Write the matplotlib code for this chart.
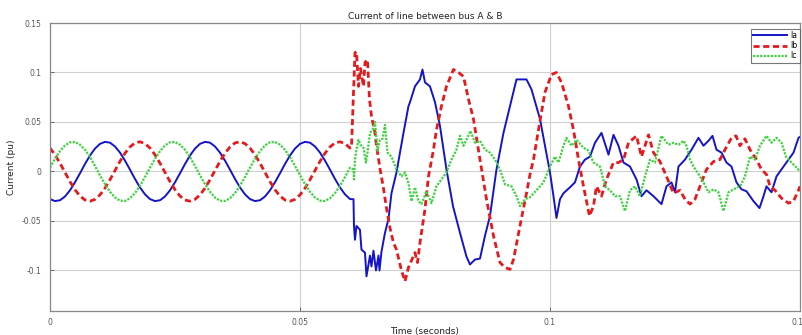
import numpy as np
import matplotlib.pyplot as plt
from matplotlib.ticker import FuncFormatter

# pre-fault samples, every 1 ms from 0 to 60 ms (values in milli-pu)
pre_t_ms = list(range(0, 61))

ia_pre = [-27.9, -29.9, -29.1, -25.3, -19.1, -11.0, -1.9, 7.5, 16.1, 23.1,
          27.9, 29.9, 29.1, 25.3, 19.1, 11.0, 1.9, -7.5, -16.1, -23.1,
          -27.9, -29.9, -29.1, -25.3, -19.1, -11.0, -1.9, 7.5, 16.1, 23.1,
          27.9, 29.9, 29.1, 25.3, 19.1, 11.0, 1.9, -7.5, -16.1, -23.1,
          -27.9, -29.9, -29.1, -25.3, -19.1, -11.0, -1.9, 7.5, 16.1, 23.1,
          27.9, 29.9, 29.1, 25.3, 19.1, 11.0, 1.9, -7.5, -16.1, -23.1,
          -27.9]
ib_pre = [23.7, 16.9, 8.4, -0.9, -10.2, -18.4, -24.8, -28.8, -30.0, -28.2,
          -23.7, -16.9, -8.4, 0.9, 10.2, 18.4, 24.8, 28.8, 30.0, 28.2,
          23.7, 16.9, 8.4, -0.9, -10.2, -18.4, -24.8, -28.8, -30.0, -28.2,
          -23.7, -16.9, -8.4, 0.9, 10.2, 18.4, 24.8, 28.8, 30.0, 28.2,
          23.7, 16.9, 8.4, -0.9, -10.2, -18.4, -24.8, -28.8, -30.0, -28.2,
          -23.7, -16.9, -8.4, 0.9, 10.2, 18.4, 24.8, 28.8, 30.0, 28.2,
          23.7]
ic_pre = [3.8, 12.8, 20.5, 26.3, 29.5, 29.8, 27.1, 21.9, 14.5, 5.6,
          -3.8, -12.8, -20.5, -26.3, -29.5, -29.8, -27.1, -21.9, -14.5, -5.6,
          3.8, 12.8, 20.5, 26.3, 29.5, 29.8, 27.1, 21.9, 14.5, 5.6,
          -3.8, -12.8, -20.5, -26.3, -29.5, -29.8, -27.1, -21.9, -14.5, -5.6,
          3.8, 12.8, 20.5, 26.3, 29.5, 29.8, 27.1, 21.9, 14.5, 5.6,
          -3.8, -12.8, -20.5, -26.3, -29.5, -29.8, -27.1, -21.9, -14.5, -5.6,
          3.8]

# post-fault points (ms, milli-pu)
ia_post_t = [60.7, 60.8, 61.0, 61.3, 62.0, 62.3, 63.0, 63.3, 64.0, 64.3, 64.7, 65.2,
             65.7, 65.9, 66.3, 67.0, 67.7, 68.3, 69.3, 70.7, 71.7, 72.0, 73.0, 74.0,
             74.5, 75.0, 76.0, 77.0, 78.0, 79.3, 80.6, 82.0, 83.3, 84.0, 85.0, 86.0,
             87.0, 88.0, 89.3, 90.7, 92.0, 93.3, 95.3, 96.3, 98.0, 99.0, 100.0, 100.7,
             101.3, 102.0, 102.7, 104.0, 105.0, 106.0, 107.0, 108.0, 109.0, 110.3, 111.7,
             112.7, 113.7, 114.7, 116.0, 117.3, 118.3, 119.3, 120.7, 122.3, 123.3, 124.3,
             125.0, 125.7, 127.0, 128.3, 129.7, 130.7, 131.7, 132.5, 133.3, 134.3, 135.3,
             136.3, 137.3, 138.3, 139.3, 140.7, 141.9, 142.7, 143.3, 144.3, 145.3, 146.7,
             147.7, 148.7, 149.7, 150.0]
ia_post = [-28, -55, -69, -55, -59, -79, -82, -106, -85, -96, -80, -100,
           -85, -100, -81, -62, -48, -22, -1, 39, 66, 70, 86, 93,
           103, 90, 86, 70, 46, 2, -35, -62, -86, -94, -89, -88,
           -65, -45, 2, 39, 66, 93, 93, 83, 53, 26, -1, -25,
           -47, -28, -22, -16, -11, 5, 12, 15, 29, 39, 17,
           37, 26, 9, 5, -8, -25, -19, -25, -33, -15, -11,
           -21, 5, 12, 22, 34, 26, 31, 36, 22, 19, 9,
           5, -11, -18, -20, -30, -37, -25, -15, -21, -5, 5,
           12, 19, 34, 35]

ib_post_t = [60.3, 61.0, 61.3, 61.7, 62.1, 62.7, 63.0, 63.5, 63.9, 64.3, 65.0, 65.3,
             66.0, 66.7, 67.3, 68.0, 68.7, 69.3, 70.3, 71.0, 71.7, 72.3, 73.0, 73.5,
             74.0, 75.0, 75.7, 76.7, 77.3, 78.3, 79.3, 80.7, 81.7, 82.7, 83.7, 84.7,
             86.0, 87.3, 88.7, 90.0, 91.0, 92.0, 92.7, 94.0, 95.3, 96.0, 96.7, 98.0,
             99.0, 100.3, 101.3, 102.3, 103.7, 104.7, 105.7, 106.7, 107.9, 108.7, 109.3,
             110.3, 111.3, 112.7, 113.7, 114.7, 115.7, 117.3, 118.3, 119.7, 120.7, 122.0,
             123.3, 124.7, 126.0, 127.0, 128.0, 129.0, 130.0, 131.3, 132.7, 134.0, 135.0,
             136.3, 137.2, 138.0, 139.0, 140.0, 141.3, 142.3, 143.3, 144.0, 145.0, 146.3,
             147.7, 148.7, 149.7, 150.0]
ib_post = [24, 120, 121, 86, 104, 86, 110, 113, 73, 56, 39, 26,
           3, -17, -37, -57, -72, -79, -100, -111, -97, -90, -82, -92,
           -72, -38, -5, 22, 42, 66, 86, 103, 100, 96, 73, 53,
           12, -28, -65, -92, -97, -99, -89, -55, -22, -3, 12, 51,
           80, 98, 100, 90, 66, 42, 12, -15, -45, -35, -15,
           -25, -8, 9, 9, 12, 29, 36, 15, 37, 19, 10,
           -5, -22, -19, -28, -33, -28, -15, 2, 10, 12, 22,
           34, 36, 26, 33, 22, 12, 2, -3, -15, -19, -27,
           -32, -30, -19, -15]

ic_post_t = [60.7, 60.8, 61.0, 61.3, 61.7, 62.1, 62.7, 63.2, 63.5, 64.0, 64.5, 65.0,
             65.5, 66.0, 66.5, 67.0, 67.5, 68.3, 69.3, 70.3, 71.0, 71.7, 72.3, 73.0,
             73.7, 74.3, 75.3, 76.3, 77.3, 78.3, 79.3, 80.3, 81.3, 82.0, 82.7, 83.3,
             84.1, 85.0, 86.0, 87.0, 88.0, 89.0, 90.0, 91.0, 92.3, 93.3, 94.0, 95.0,
             96.0, 97.3, 98.7, 100.0, 101.0, 101.7, 102.7, 103.3, 104.3, 105.3, 106.7,
             107.7, 108.7, 110.0, 111.0, 112.0, 113.0, 114.0, 115.0, 116.0, 117.0, 118.0,
             119.0, 120.0, 121.0, 122.3, 123.7, 124.7, 125.7, 126.7, 127.3, 128.0, 128.7,
             130.0, 130.7, 131.7, 132.7, 133.7, 134.7, 135.7, 136.7, 138.0, 139.0, 140.0,
             141.0, 142.0, 143.3, 144.3, 145.3, 146.3, 147.2, 148.3, 149.3, 150.0]
ic_post = [2, -8, 12, 22, 32, 27, 24, 9, 19, 39, 42, 50,
           21, 32, 33, 47, 19, 15, 2, -5, -1, -12, -30, -16,
           -30, -33, -20, -32, -15, -8, -1, 12, 22, 36, 26, 32,
           41, 29, 31, 22, 19, 12, 2, -13, -15, -25, -35, -28,
           -26, -19, -11, 5, 15, 9, 26, 34, 26, 32, 24,
           21, 9, 5, -15, -19, -25, -25, -40, -19, -15, -25,
           -5, 12, 9, 36, 27, 29, 27, 31, 26, 12, 5,
           -5, -11, -21, -18, -21, -40, -21, -18, -15, -5, 15,
           12, 26, 36, 29, 34, 29, 15, 9, 4, 0]

tick_x = [0, 0.05, 0.1, 0.15]
tick_y = [-0.1, -0.05, 0, 0.05, 0.1, 0.15]


def to_series(pre, post_t, post):
    t = np.array(pre_t_ms + post_t) / 1000.0
    v = np.array(pre + post) / 1000.0
    return t, v


fig = plt.figure(figsize=(8.02, 3.35), dpi=100)
ax = fig.add_axes([0.0623, 0.0716, 0.9352, 0.8597])

t, v = to_series(ia_pre, ia_post_t, ia_post)
ax.plot(t, v, color='#1414c8', linewidth=1.4, label='Ia')
t, v = to_series(ib_pre, ib_post_t, ib_post)
ax.plot(t, v, color='#e41a1c', linewidth=2.0, linestyle=(0, (2.2, 1.3)), label='Ib')
t, v = to_series(ic_pre, ic_post_t, ic_post)
ax.plot(t, v, color='#3fd23f', linewidth=1.6, linestyle=(0, (1, 0.6)), label='Ic')

ax.set_xlim(0, 0.15)
ax.set_ylim(-0.141, 0.15)
ax.set_xticks(tick_x)
ax.set_yticks(tick_y)
ax.xaxis.set_major_formatter(FuncFormatter(lambda x, p: '%g' % round(x, 4)))
ax.yaxis.set_major_formatter(FuncFormatter(lambda x, p: '%g' % round(x, 4)))
ax.tick_params(direction='in', length=3, width=0.6, labelsize=5.5,
               colors='#555555')
ax.tick_params(axis='x', pad=5)
ax.tick_params(axis='y', pad=6)
ax.grid(True, color='#d0d0d0', linewidth=0.8)
ax.set_axisbelow(True)
for s in ax.spines.values():
    s.set_color('#888888')
    s.set_linewidth(0.9)

ax.set_title('Current of line between bus A & B', fontsize=6.5, color='#222222', pad=3)
ax.set_xlabel('Time (seconds)', fontsize=6.5, color='#222222', labelpad=0)
ax.set_ylabel('Current (pu)', fontsize=6.5, color='#222222', labelpad=4)

leg = ax.legend(loc='upper right', bbox_to_anchor=(1.002, 0.985), fontsize=5.5,
                frameon=True, fancybox=False, borderpad=0.3, labelspacing=0.15,
                handlelength=4.5, handletextpad=0.4, borderaxespad=0.2)
leg.get_frame().set_edgecolor('#555555')
leg.get_frame().set_linewidth(0.8)

fig.savefig('out.png', dpi=100)
